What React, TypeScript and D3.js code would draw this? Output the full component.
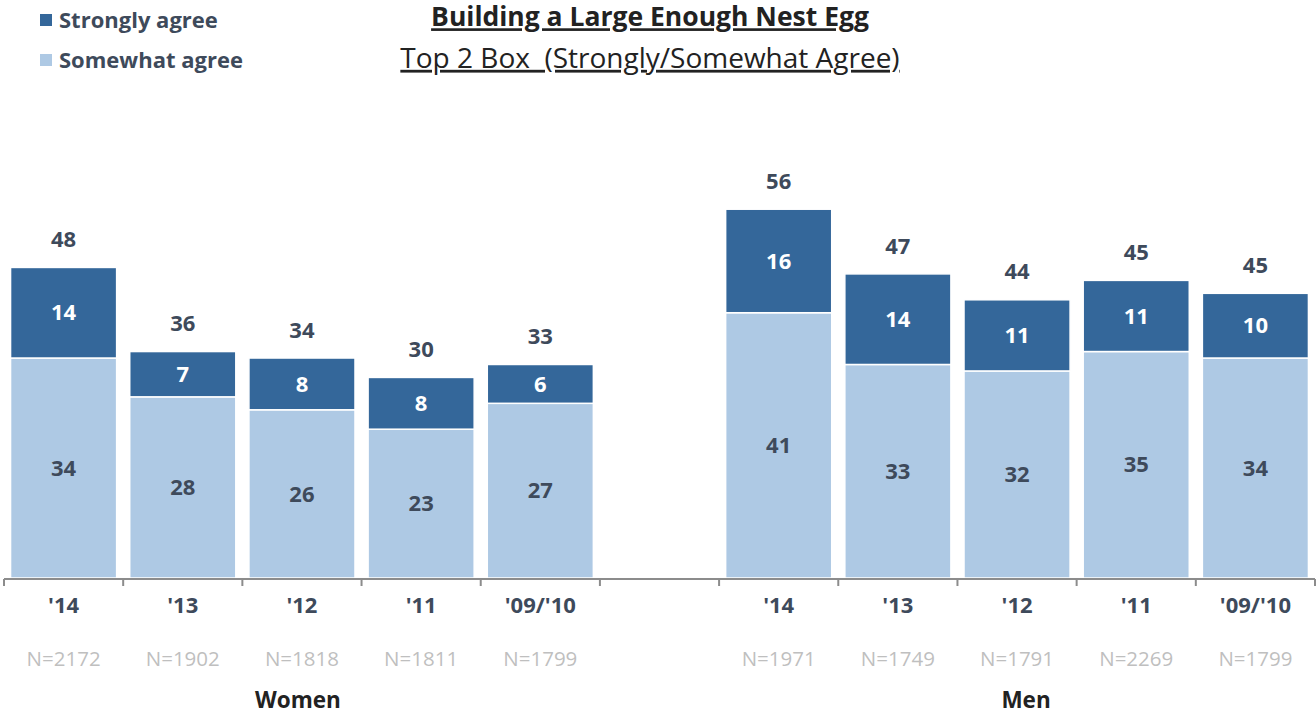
import React from "react";
import * as d3 from "d3";

const years = ["'14", "'13", "'12", "'11", "'09/'10"];
const womenStrongly = [14, 7, 8, 8, 6];
const womenSomewhat = [34, 28, 26, 23, 27];
const womenTotals = [48, 36, 34, 30, 33];
const womenN = ["N=2172", "N=1902", "N=1818", "N=1811", "N=1799"];
const menStrongly = [16, 14, 11, 11, 10];
const menSomewhat = [41, 33, 32, 35, 34];
const menTotals = [56, 47, 44, 45, 45];
const menN = ["N=1971", "N=1749", "N=1791", "N=2269", "N=1799"];
const groups = ["Women", "Men"];
const legendLabels = ["Strongly agree", "Somewhat agree"];
const title = "Building a Large Enough Nest Egg";
const subtitle = "Top 2 Box  (Strongly/Somewhat Agree)";

const DARK = "#34679A";
const LIGHT = "#AEC9E4";
const TEXT = "#3E4A5B";
const FONT = "'Open Sans', Lato, sans-serif";

type Row = { key: string; year: string; group: string; strongly: number; somewhat: number; total: number; n: string };

const rows: Row[] = [];
years.forEach((y, i) =>
  rows.push({ key: "W" + i, year: y, group: groups[0], strongly: womenStrongly[i], somewhat: womenSomewhat[i], total: womenTotals[i], n: womenN[i] })
);
const slots: string[] = [...rows.map((r) => r.key), "gap"];
years.forEach((y, i) => {
  rows.push({ key: "M" + i, year: y, group: groups[1], strongly: menStrongly[i], somewhat: menSomewhat[i], total: menTotals[i], n: menN[i] });
  slots.push("M" + i);
});

export default function App() {
  const W = 1316, H = 714;
  const left = 4, right = 1315, base = 578;
  const x = d3.scaleBand<string>().domain(slots).range([left, right]).paddingInner(0.11).paddingOuter(0.055);
  const y = d3.scaleLinear().domain([0, 60]).range([base, base - 60 * 6.47]);
  const step = x.step();
  const bw = x.bandwidth();
  const ticks = d3.range(slots.length + 1).map((i) => left + i * step);

  const groupCenter = (g: string) => {
    const rs = rows.filter((r) => r.group === g);
    const a = x(rs[0].key)!;
    const b = x(rs[rs.length - 1].key)! + bw;
    return (a + b) / 2;
  };

  return (
    <svg width={W} height={H} style={{ position: "absolute", left: 0, top: 0, display: "block", background: "#fff" }} fontFamily={FONT}>
      {/* legend */}
      {legendLabels.map((l, i) => (
        <g key={l}>
          <rect x={40} y={14 + i * 40} width={12} height={12} fill={i === 0 ? DARK : LIGHT} />
          <text x={59} y={20 + i * 40} dy="0.35em" fontSize={22} fontWeight={700} fill={TEXT}>
            {l}
          </text>
        </g>
      ))}
      {/* title */}
      <text x={650} y={17} dy="0.35em" textAnchor="middle" fontSize={26.5} fontWeight={700} fill="#222" textDecoration="underline">
        {title}
      </text>
      <text x={650} y={58} dy="0.35em" textAnchor="middle" fontSize={28} fill="#222" textDecoration="underline" style={{ whiteSpace: "pre" }}>
        {subtitle}
      </text>

      {/* bars */}
      {rows.map((r) => {
        const x0 = x(r.key)!;
        const cx = x0 + bw / 2;
        const ySom = y(r.somewhat);
        const yTop = y(r.somewhat + r.strongly);
        return (
          <g key={r.key}>
            <rect x={x0} y={ySom} width={bw} height={base - ySom} fill={LIGHT} stroke="#fff" strokeWidth={1.5} />
            <rect x={x0} y={yTop} width={bw} height={ySom - yTop} fill={DARK} stroke="#fff" strokeWidth={1.5} />
            <text x={cx} y={(ySom + base) / 2} dy="0.35em" textAnchor="middle" fontSize={22} fontWeight={700} fill={TEXT}>
              {r.somewhat}
            </text>
            <text x={cx} y={(ySom + yTop) / 2} dy="0.35em" textAnchor="middle" fontSize={22} fontWeight={700} fill="#fff">
              {r.strongly}
            </text>
            <text x={cx} y={yTop - 28} dy="0.35em" textAnchor="middle" fontSize={22} fontWeight={700} fill={TEXT}>
              {r.total}
            </text>
            <text x={cx} y={605} dy="0.35em" textAnchor="middle" fontSize={22} fontWeight={700} fill={TEXT}>
              {r.year}
            </text>
            <text x={cx} y={659} dy="0.35em" textAnchor="middle" fontSize={20.5} fill="#BFBFBF">
              {r.n}
            </text>
          </g>
        );
      })}

      {/* axis */}
      <line x1={left} x2={right} y1={base + 1} y2={base + 1} stroke="#8C8C8C" strokeWidth={2} />
      {ticks.map((t, i) => (
        <line key={i} x1={t} x2={t} y1={base + 1} y2={base + 8} stroke="#8C8C8C" strokeWidth={2} />
      ))}

      {/* group labels */}
      {groups.map((g, i) => (
        <text key={g} x={groupCenter(g) + (i === 0 ? -4 : 9)} y={700} dy="0.35em" textAnchor="middle" fontSize={22.5} fontWeight={700} fill="#222">
          {g}
        </text>
      ))}
    </svg>
  );
}
